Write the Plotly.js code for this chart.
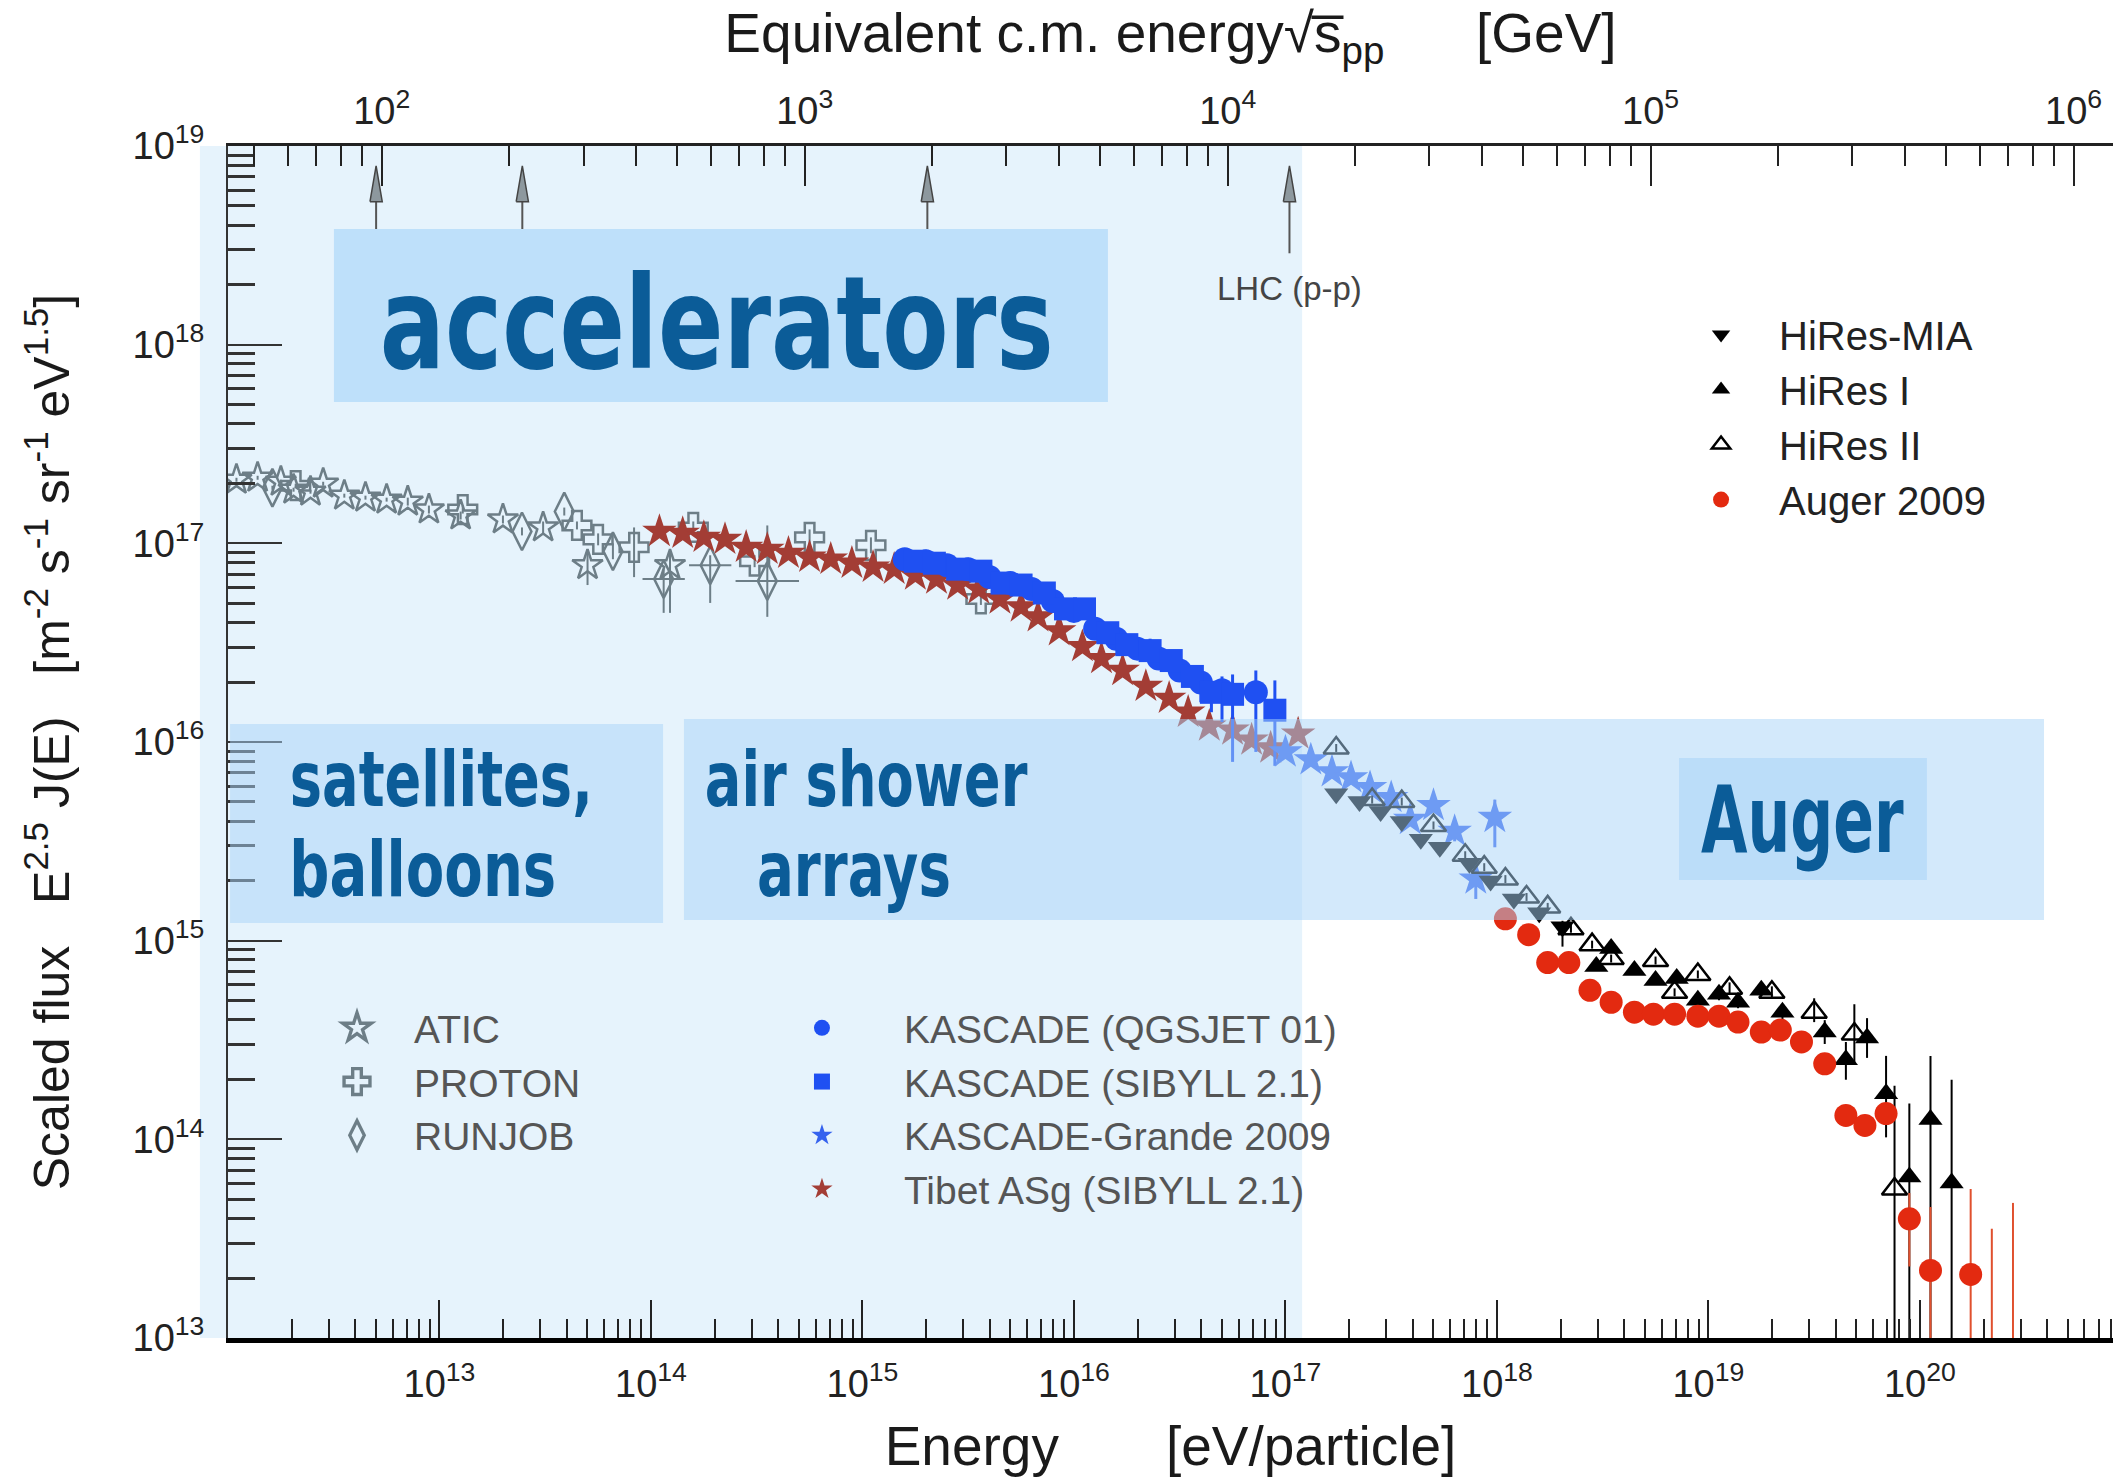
<!DOCTYPE html>
<html><head><meta charset="utf-8">
<script src="https://cdn.plot.ly/plotly-3.0.1.min.js"></script>
<style>html,body{margin:0;padding:0;background:#fff}#chart{width:2113px;height:1477px}</style>
</head><body><div id="chart"></div>
<script>
// ---------------- data: log10(E / eV) and log10(E^2.5 J(E)) ----------------
const atic_logE = [12.04,12.14,12.25,12.31,12.39,12.45,12.55,12.65,12.75,12.85,12.95,13.10,13.30,13.49,13.70,14.09];
const atic_logF = [17.32,17.33,17.31,17.27,17.26,17.30,17.24,17.23,17.22,17.21,17.17,17.14,17.12,17.08,16.89,16.89];
const atic_errUp = [0.01,0.01,0.01,0.01,0.01,0.01,0.01,0.01,0.01,0.02,0.02,0.02,0.02,0.03,0.08,0.07];
const atic_errDn = [0.01,0.01,0.01,0.01,0.01,0.01,0.01,0.01,0.01,0.02,0.02,0.02,0.02,0.03,0.10,0.24];

const proton_logE = [12.32,13.11,13.65,13.75,13.92,14.20,14.49,14.75,15.04,15.56];
const proton_logF = [17.29,17.17,17.09,17.02,16.98,17.08,16.91,17.03,16.99,16.72];
const proton_errUp = [0.01,0.02,0.02,0.03,0.10,0.03,0.03,0.04,0.04,0.03];
const proton_errDn = [0.01,0.02,0.02,0.03,0.15,0.03,0.03,0.04,0.04,0.03];

const runjob_logE = [12.21,13.39,13.59,13.82,14.06,14.28,14.55];
const runjob_logF = [17.28,17.06,17.16,16.96,16.82,16.89,16.81];
const runjob_errUp = [0.01,0.02,0.02,0.04,0.05,0.05,0.28];
const runjob_errDn = [0.01,0.02,0.02,0.04,0.17,0.19,0.18];
const runjob_binHalf = [0,0,0,0,0.10,0.10,0.15];

const tibet_logE = [14.04,14.15,14.25,14.35,14.45,14.55,14.65,14.75,14.85,14.95,15.05,15.15,15.25,15.35,15.45,15.55,15.65,15.75,15.83,15.93,16.04,16.13,16.23,16.34,16.45,16.54,16.64,16.75,16.84,16.93,17.06];
const tibet_logF = [17.06,17.05,17.03,17.02,16.98,16.97,16.95,16.93,16.92,16.90,16.88,16.87,16.84,16.82,16.79,16.77,16.72,16.68,16.63,16.56,16.48,16.42,16.36,16.28,16.22,16.15,16.08,16.06,16.01,15.97,16.04];

const kq_logE = [15.20,15.30,15.40,15.50,15.60,15.70,15.80,15.90,16.00,16.10,16.20,16.30,16.40,16.50,16.60,16.70,16.86];
const kq_logF = [16.92,16.91,16.89,16.87,16.83,16.80,16.77,16.71,16.66,16.57,16.52,16.47,16.42,16.36,16.30,16.26,16.25];
const kq_errUp = [0.01,0.01,0.01,0.01,0.01,0.01,0.01,0.01,0.01,0.01,0.02,0.02,0.02,0.03,0.05,0.07,0.11];
const kq_errDn = [0.01,0.01,0.01,0.01,0.01,0.01,0.01,0.01,0.01,0.01,0.02,0.02,0.03,0.05,0.10,0.16,0.30];

const ks_logE = [15.25,15.34,15.45,15.56,15.66,15.75,15.86,15.96,16.05,16.16,16.25,16.36,16.46,16.56,16.65,16.75,16.95];
const ks_logF = [16.91,16.90,16.87,16.86,16.80,16.79,16.75,16.67,16.67,16.55,16.49,16.46,16.41,16.33,16.25,16.24,16.16];
const ks_errUp = [0.01,0.01,0.01,0.01,0.01,0.01,0.01,0.02,0.02,0.02,0.03,0.06,0.03,0.05,0.05,0.10,0.15];
const ks_errDn = [0.01,0.01,0.01,0.01,0.01,0.01,0.01,0.02,0.02,0.02,0.03,0.04,0.05,0.06,0.10,0.34,0.28];

const kg_logE = [17.00,17.12,17.22,17.31,17.40,17.50,17.59,17.70,17.80,17.90,17.99];
const kg_logF = [15.95,15.91,15.85,15.82,15.77,15.72,15.61,15.68,15.55,15.31,15.62];
const kg_errUp = [0.02,0.02,0.02,0.02,0.02,0.03,0.03,0.03,0.04,0.10,0.09];
const kg_errDn = [0.02,0.02,0.02,0.02,0.02,0.03,0.03,0.03,0.05,0.10,0.15];

const mia_logE = [17.24,17.35,17.45,17.55,17.64,17.73,17.87,17.97,18.08,18.20,18.31];
const mia_logF = [15.74,15.70,15.65,15.60,15.51,15.47,15.39,15.30,15.21,15.14,15.07];
const mia_errUp = [0.02,0.02,0.02,0.02,0.02,0.02,0.02,0.02,0.02,0.02,0.03];
const mia_errDn = [0.02,0.02,0.02,0.02,0.02,0.02,0.02,0.02,0.02,0.02,0.10];

const h1_logE = [18.47,18.54,18.65,18.75,18.85,18.95,19.05,19.14,19.25,19.35,19.55,19.65,19.75,19.84,19.95,20.05,20.15];
const h1_logF = [14.87,14.96,14.85,14.80,14.81,14.70,14.73,14.69,14.75,14.64,14.54,14.40,14.51,14.23,13.81,14.10,13.78];
const h1_errUp = [0.02,0.02,0.02,0.02,0.02,0.02,0.03,0.03,0.03,0.04,0.06,0.09,0.10,0.19,0.37,0.32,0.52];
const h1_errDn = [0.02,0.02,0.02,0.02,0.02,0.02,0.03,0.03,0.03,0.04,0.06,0.10,0.10,0.22,1.20,1.50,1.20];

const h2_logE = [17.24,17.41,17.55,17.70,17.85,17.94,18.04,18.14,18.24,18.35,18.45,18.54,18.75,18.84,18.95,19.10,19.30,19.50,19.69,19.88];
const h2_logF = [15.97,15.71,15.70,15.58,15.43,15.37,15.31,15.22,15.17,15.06,14.98,14.91,14.90,14.74,14.83,14.76,14.74,14.64,14.53,13.75];
const h2_errUp = [0.02,0.02,0.02,0.02,0.02,0.02,0.02,0.02,0.02,0.02,0.02,0.02,0.02,0.02,0.02,0.03,0.03,0.07,0.15,0.52];
const h2_errDn = [0.02,0.02,0.02,0.02,0.02,0.02,0.02,0.02,0.02,0.02,0.02,0.02,0.02,0.02,0.02,0.03,0.03,0.05,0.15,1.20];

const auger_logE = [18.04,18.15,18.24,18.34,18.44,18.54,18.65,18.74,18.84,18.95,19.05,19.14,19.25,19.34,19.44,19.55,19.65,19.74,19.84,19.95,20.05,20.24];
const auger_logF = [15.11,15.03,14.89,14.89,14.75,14.69,14.64,14.63,14.63,14.62,14.62,14.59,14.54,14.55,14.49,14.38,14.12,14.07,14.13,13.60,13.34,13.32];
const auger_errUp = [0.01,0.01,0.01,0.01,0.01,0.01,0.01,0.01,0.01,0.01,0.01,0.01,0.01,0.01,0.02,0.03,0.04,0.05,0.05,0.13,0.32,0.43];
const auger_errDn = [0.01,0.01,0.01,0.01,0.01,0.01,0.01,0.01,0.01,0.01,0.01,0.01,0.01,0.01,0.02,0.03,0.04,0.05,0.05,0.24,1.00,1.00];
// Auger bins shown only by an upper error line
const augerLim_logE = [20.34,20.44];
const augerLim_logTop = [13.55,13.68];

// accelerator energies (sqrt(s) in GeV) marked with arrows on the top axis
const accel_sqrtS = [97,215,1950,14000];
const accel_label = ['','','','LHC (p-p)'];
const accelRegionEnd_sqrtS = 15000;

// axis ticks (exponents)
const xTickExp = [13,14,15,16,17,18,19,20];
const yTickExp = [13,14,15,16,17,18,19];
const topTickExp = [2,3,4,5,6];

// ---------------- helpers ----------------
const FONT = 'Liberation Sans, Arial, Helvetica, sans-serif';
const HEAVY = 'DejaVu Sans, Liberation Sans, sans-serif';
const P = v => Math.pow(10, v);
const MP = 0.938;
const logSqrtS = logE => 0.5 * (Math.log10(2 * MP) + logE - 9);
const logEfromSqrtS = s => 2 * Math.log10(s) - Math.log10(2 * MP) + 9;
const xRange = [12, 20.913];
const yRange = [13, 19];
const paperX = logE => (logE - xRange[0]) / (xRange[1] - xRange[0]);
const norm = s => s.replace(/\u00a0/g, ' ').replace(/\u200b/g, '').trim();

function errY(logF, up, dn, color, thick) {
  return {type: 'data', symmetric: false, width: 0, thickness: thick || 2, color: color,
    array: logF.map((v, i) => P(v + up[i]) - P(v)),
    arrayminus: logF.map((v, i) => P(v) - P(v - dn[i]))};
}
function errX(logE, d, color) {
  return {type: 'data', symmetric: false, width: 0, thickness: 2, color: color,
    array: logE.map((v, i) => P(v + d[i]) - P(v)),
    arrayminus: logE.map((v, i) => P(v) - P(v - d[i]))};
}
function minorVals(e0, e1) {
  const out = [];
  for (let e = e0; e <= e1; e++) for (let m = 2; m <= 9; m++) out.push(m * P(e));
  return out;
}
function pts(name, logE, logF, symbol, color, size, legend, rank, lw) {
  return {type: 'scatter', mode: 'markers', name: name, legend: legend, legendrank: rank,
    x: logE.map(P), y: logF.map(P),
    marker: {symbol: symbol, color: color, size: size, line: {width: lw || 0, color: color}},
    hoverinfo: 'skip'};
}

const GRAY = '#6d7e87', BLUE = '#1f50f2', BLUE2 = '#3562ee', BROWN = '#a33d35', RED = '#e32a10';

const traces = [];
let t;
t = pts('ATIC', atic_logE, atic_logF, 'star-open', GRAY, 23, 'legend', 1, 2.5);
t.error_y = errY(atic_logF, atic_errUp, atic_errDn, GRAY); traces.push(t);
t = pts('PROTON', proton_logE, proton_logF, 'cross-open', GRAY, 24, 'legend', 2, 2.5);
t.error_y = errY(proton_logF, proton_errUp, proton_errDn, GRAY); traces.push(t);
t = pts('RUNJOB', runjob_logE, runjob_logF, 'diamond-tall-open', GRAY, 27, 'legend', 3, 2.5);
t.error_y = errY(runjob_logF, runjob_errUp, runjob_errDn, GRAY);
t.error_x = errX(runjob_logE, runjob_binHalf, GRAY); traces.push(t);
t = pts('Tibet ASg (SIBYLL 2.1)', tibet_logE, tibet_logF, 'star', BROWN, 26, 'legend2', 4); traces.push(t);
t = pts('KASCADE (QGSJET 01)', kq_logE, kq_logF, 'circle', BLUE, 24, 'legend2', 1);
t.error_y = errY(kq_logF, kq_errUp, kq_errDn, BLUE, 3); traces.push(t);
t = pts('KASCADE (SIBYLL 2.1)', ks_logE, ks_logF, 'square', BLUE, 23, 'legend2', 2);
t.error_y = errY(ks_logF, ks_errUp, ks_errDn, BLUE, 3); traces.push(t);
t = pts('KASCADE-Grande 2009', kg_logE, kg_logF, 'star', BLUE2, 26, 'legend2', 3);
t.error_y = errY(kg_logF, kg_errUp, kg_errDn, BLUE2, 3); traces.push(t);
t = pts('HiRes-MIA', mia_logE, mia_logF, 'triangle-down', '#000', 21, 'legend3', 1);
t.error_y = errY(mia_logF, mia_errUp, mia_errDn, '#000'); traces.push(t);
t = pts('HiRes I', h1_logE, h1_logF, 'triangle-up', '#000', 21, 'legend3', 2);
t.error_y = errY(h1_logF, h1_errUp, h1_errDn, '#000'); traces.push(t);
t = pts('HiRes II', h2_logE, h2_logF, 'triangle-up-open', '#000', 22, 'legend3', 3, 2.5);
t.error_y = errY(h2_logF, h2_errUp, h2_errDn, '#000'); traces.push(t);
t = pts('Auger 2009', auger_logE, auger_logF, 'circle', RED, 23, 'legend3', 4);
t.error_y = errY(auger_logF, auger_errUp, auger_errDn, '#e0502e'); traces.push(t);

// Auger upper error lines (no central point on scale)
const limX = [], limY = [];
augerLim_logE.forEach((e, i) => { limX.push(P(e), P(e), null); limY.push(P(augerLim_logTop[i]), P(yRange[0] - 0.3), null); });
traces.push({type: 'scatter', mode: 'lines', x: limX, y: limY, showlegend: false, hoverinfo: 'skip',
  line: {color: '#e0502e', width: 2}});

// accelerator arrows on the top (sqrt(s)) axis
const ARROW_TIP = P(18.90), ARROW_BASE = P(18.72), ARROW_END = P(18.46), HALF = P(0.0145);
const shaftX = [], shaftY = [], headX = [], headY = [];
accel_sqrtS.forEach(s => {
  shaftX.push(s, s, null); shaftY.push(ARROW_END, ARROW_BASE, null);
  headX.push(s / HALF, s, s * HALF, s / HALF, null); headY.push(ARROW_BASE, ARROW_TIP, ARROW_BASE, ARROW_BASE, null);
});
traces.push({type: 'scatter', mode: 'lines', xaxis: 'x2', yaxis: 'y', x: shaftX, y: shaftY, showlegend: false,
  hoverinfo: 'skip', line: {color: '#555', width: 2}});
traces.push({type: 'scatter', mode: 'lines', xaxis: 'x2', yaxis: 'y', x: headX, y: headY, fill: 'toself',
  fillcolor: '#8d989e', showlegend: false, hoverinfo: 'skip', line: {color: '#444', width: 1.5}});

const supTxt = e => '10<sup>' + e + '</sup>';
const tickFont = {family: FONT, size: 38, color: '#222'};

// region labels: [text, centre x (paper), middle y (paper), font size, drawn width px]
const regionLabels = [
  ['accelerators', 0.2594, 0.8515, 128, 674],
  ['satellites,', 0.1133, 0.4684, 76, 303],
  ['balloons', 0.1037, 0.3929, 76, 267],
  ['air shower', 0.3387, 0.4684, 76, 323],
  ['arrays', 0.3321, 0.3929, 76, 194],
  ['Auger', 0.8353, 0.4345, 92, 203]
];
const annotations = regionLabels.map(r => ({text: r[0], x: r[1], y: r[2], xref: 'paper', yref: 'paper',
  xanchor: 'center', yanchor: 'middle', showarrow: false,
  font: {family: HEAVY, size: r[3], color: '#0b5c98', weight: 'bold'}}));
accel_sqrtS.forEach((s, i) => {
  if (accel_label[i]) annotations.push({text: accel_label[i], xref: 'x2', yref: 'y', x: Math.log10(s), y: 18.285,
    xanchor: 'center', yanchor: 'middle', showarrow: false, font: {family: FONT, size: 33, color: '#444'}});
});

const shapes = [
  {type: 'rect', xref: 'paper', yref: 'paper', x0: -0.0149, x1: paperX(logEfromSqrtS(accelRegionEnd_sqrtS)), y0: 0, y1: 1,
    fillcolor: '#e6f3fc', line: {width: 0}, layer: 'below'},
  {type: 'rect', xref: 'paper', yref: 'paper', x0: 0.0562, x1: 0.4668, y0: 0.7852, y1: 0.9304,
    fillcolor: '#bee0fa', line: {width: 0}, layer: 'above'},
  {type: 'rect', xref: 'paper', yref: 'paper', x0: 0.0011, x1: 0.2308, y0: 0.3482, y1: 0.5151,
    fillcolor: 'rgba(167,211,247,0.5)', line: {width: 0}, layer: 'above'},
  {type: 'rect', xref: 'paper', yref: 'paper', x0: 0.2419, x1: 0.9634, y0: 0.3507, y1: 0.5193,
    fillcolor: 'rgba(167,211,247,0.5)', line: {width: 0}, layer: 'above'},
  {type: 'rect', xref: 'paper', yref: 'paper', x0: 0.7698, x1: 0.9013, y0: 0.3842, y1: 0.4866,
    fillcolor: 'rgba(167,211,247,0.55)', line: {width: 0}, layer: 'above'}
];

const legendBase = {xanchor: 'left', yanchor: 'top', bgcolor: 'rgba(0,0,0,0)', borderwidth: 0,
  traceorder: 'normal', itemclick: false, itemdoubleclick: false};

const layout = {
  width: 2113, height: 1477,
  margin: {l: 228, r: 0, t: 146, b: 139, pad: 0},
  paper_bgcolor: '#ffffff', plot_bgcolor: 'rgba(0,0,0,0)',
  font: {family: FONT, color: '#222'},
  hovermode: false,
  xaxis: {type: 'log', range: xRange, showgrid: false, zeroline: false,
    showline: true, linecolor: '#000', linewidth: 5,
    tickmode: 'array', tickvals: xTickExp.map(P), ticktext: xTickExp.map(supTxt),
    ticks: 'inside', ticklen: 38, tickwidth: 2, tickcolor: '#222', tickfont: tickFont, ticklabelstandoff: 8,
    minor: {tickmode: 'array', tickvals: minorVals(12, 20), ticks: 'inside', ticklen: 19, tickwidth: 2, tickcolor: '#222'},
    title: {text: 'Energy&nbsp;&nbsp;&nbsp;&nbsp;&nbsp;&nbsp;&nbsp;[eV/particle]', font: {family: FONT, size: 55, color: '#1a1a1a'}, standoff: 27}},
  xaxis2: {type: 'log', overlaying: 'x', side: 'top', anchor: 'y',
    range: [logSqrtS(xRange[0]), logSqrtS(xRange[1])], showgrid: false, zeroline: false,
    showline: true, linecolor: '#222', linewidth: 3,
    tickmode: 'array', tickvals: topTickExp.map(P), ticktext: topTickExp.map(supTxt),
    ticks: 'inside', ticklen: 40, tickwidth: 2, tickcolor: '#222', tickfont: tickFont, ticklabelstandoff: 4,
    minor: {tickmode: 'array', tickvals: minorVals(1, 6), ticks: 'inside', ticklen: 20, tickwidth: 2, tickcolor: '#222'},
    title: {text: 'Equivalent c.m. energy√s\u0305<sub>pp</sub>&nbsp;&nbsp;&nbsp;&nbsp;&nbsp;&nbsp;[GeV]',
      font: {family: FONT, size: 55, color: '#1a1a1a'}, standoff: 14}},
  yaxis: {type: 'log', range: yRange, showgrid: false, zeroline: false,
    showline: true, linecolor: '#333', linewidth: 2,
    tickmode: 'array', tickvals: yTickExp.map(P), ticktext: yTickExp.map(supTxt),
    ticks: 'inside', ticklen: 54, tickwidth: 2, tickcolor: '#333', tickfont: tickFont, ticklabelstandoff: 14,
    minor: {tickmode: 'array', tickvals: minorVals(13, 18), ticks: 'inside', ticklen: 27, tickwidth: 3, tickcolor: '#333'},
    title: {text: 'Scaled flux&nbsp;&nbsp;&nbsp;E<sup>2.5</sup> J(E)&nbsp;&nbsp;&nbsp;[m<sup>-2</sup> s<sup>-1</sup> sr<sup>-1</sup> eV<sup>1.5</sup>]',
      font: {family: FONT, size: 50, color: '#1a1a1a'}, standoff: 47}},
  legend: Object.assign({}, legendBase, {x: 0.0382, y: 0.2869, itemwidth: 104,
    font: {family: FONT, size: 39, color: '#555'}}),
  legend2: Object.assign({}, legendBase, {x: 0.2716, y: 0.2869, itemwidth: 154,
    font: {family: FONT, size: 39, color: '#555'}}),
  legend3: Object.assign({}, legendBase, {x: 0.7613, y: 0.8691, itemwidth: 106,
    font: {family: FONT, size: 40, color: '#222'}}),
  shapes: shapes,
  annotations: annotations
};

// legend symbol enlargement (the library caps legend markers at 16 px)
const legendSymbolScale = {'ATIC': 1.35, 'PROTON': 1.35, 'RUNJOB': 1.3, 'KASCADE (QGSJET 01)': 1.3,
  'KASCADE (SIBYLL 2.1)': 1.2, 'KASCADE-Grande 2009': 1.5, 'Tibet ASg (SIBYLL 2.1)': 1.6,
  'HiRes-MIA': 1.2, 'HiRes I': 1.2, 'HiRes II': 1.2, 'Auger 2009': 1.35};

function enlargeLegendSymbols() {
  document.querySelectorAll('.legendtext').forEach(txt => {
    const s = legendSymbolScale[norm(txt.textContent)];
    if (!s) return;
    let item = txt.parentNode;
    while (item && !(item.querySelector && item.querySelector('.legendpoints'))) item = item.parentNode;
    if (!item) return;
    item.querySelectorAll('.legendpoints path').forEach(p => {
      if (p.getAttribute('data-enlarged') === '1') return;
      if (!p.getAttribute('d')) return;
      p.setAttribute('transform', (p.getAttribute('transform') || '') + ' scale(' + s + ')');
      p.setAttribute('data-enlarged', '1');
    });
  });
}

function cleanSupSpans() {
  const SVGNS = 'http://www.w3.org/2000/svg';
  document.querySelectorAll('tspan').forEach(ts => {
    if (ts.children.length || ts.textContent.replace(/\u200b/g, '') !== '') return;
    const dy = ts.getAttribute('dy');
    let next = ts.nextSibling;
    if (dy && next) {
      if (next.nodeType === 3) {
        const wrap = document.createElementNS(SVGNS, 'tspan');
        next.parentNode.insertBefore(wrap, next);
        wrap.appendChild(next);
        next = wrap;
      }
      if (next.nodeType === 1 && !next.getAttribute('dy')) next.setAttribute('dy', dy);
      else if (next.nodeType === 1) return;
    }
    ts.parentNode.removeChild(ts);
  });
  document.querySelectorAll('text').forEach(tx => {
    const walker = document.createTreeWalker(tx, NodeFilter.SHOW_TEXT);
    while (walker.nextNode()) {
      const n = walker.currentNode;
      if (n.nodeValue.indexOf('\u200b') >= 0) n.nodeValue = n.nodeValue.replace(/\u200b/g, '');
    }
  });
}

function condenseRegionLabels() {
  const widths = {};
  regionLabels.forEach(r => { widths[r[0]] = r[4]; });
  document.querySelectorAll('.annotation').forEach(g => {
    const el = g.querySelector('.annotation-text');
    if (!el || el.getAttribute('data-condensed') === '1') return;
    const w = widths[norm(el.textContent)];
    if (!w) return;
    const bb = el.getBBox();
    if (!bb.width) return;
    const sx = w / bb.width, cx = bb.x + bb.width / 2;
    const prev = el.getAttribute('transform') || '';
    el.setAttribute('transform', prev + ' translate(' + cx + ',0) scale(' + sx + ',1) translate(' + (-cx) + ',0)');
    el.setAttribute('data-condensed', '1');
    const bg = g.querySelector('rect.bg');
    if (bg) {
      const oldW = parseFloat(bg.getAttribute('width')) || 0;
      const oldX = parseFloat(bg.getAttribute('x')) || 0;
      bg.setAttribute('x', oldX + (oldW - w) / 2);
      bg.setAttribute('width', w);
    }
  });
}

function postProcess() { condenseRegionLabels(); enlargeLegendSymbols(); cleanSupSpans(); }

Plotly.newPlot('chart', traces, layout, {staticPlot: true, displayModeBar: false}).then(() => {
  postProcess();
  [50, 300, 800, 1500].forEach(ms => setTimeout(postProcess, ms));
});
</script>
</body></html>
